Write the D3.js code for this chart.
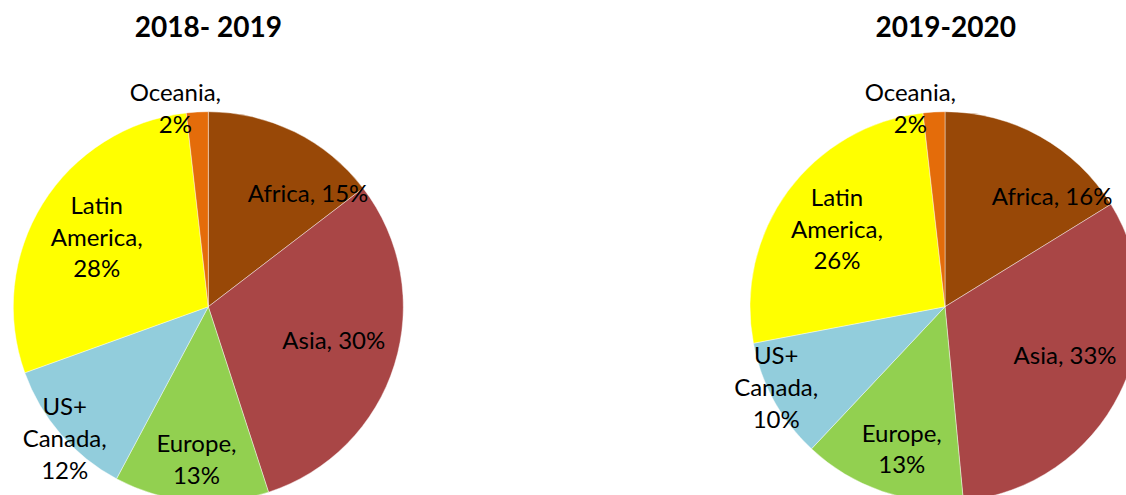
<!DOCTYPE html>
<html>
<head>
<meta charset="utf-8">
<script src="https://cdn.jsdelivr.net/npm/d3@7"></script>
<style>
html,body{margin:0;padding:0;background:#fff;}
svg{display:block;}
</style>
</head>
<body>
<svg id="chart" width="1126" height="495"></svg>
<script>
// ---- data ----
const categories = ["Africa", "Asia", "Europe", "US+ Canada", "Latin America", "Oceania"];
const values2018 = [14.6, 30.4, 12.8, 11.7, 28.7, 1.8];
const values2020 = [16.2, 32.3, 13.5, 10.0, 26.2, 1.8];
const pct2018 = [15, 30, 13, 12, 28, 2];
const pct2020 = [16, 33, 13, 10, 26, 2];
const titles = ["2018- 2019", "2019-2020"];
const colors = ["#984807", "#A94646", "#92D050", "#92CDDC", "#FFFF00", "#E46C0A"];
// how each category name is split into label lines
const nameLines = [["Africa"], ["Asia"], ["Europe"], ["US+", "Canada"], ["Latin", "America"], ["Oceania"]];
const inlinePct = [true, true, false, false, false, false];

// ---- layout ----
const W = 1126, H = 495;
const R = 195;
const FONT = "Lato, 'Open Sans', sans-serif";
const labelSize = 24, lineH = 31.7;
// per pie: [angle shift in degrees, radius factor] for each label
const place2018 = [[15.2, 0.772], [-2, 0.667], [-0.6, 0.785], [-1.7, 1.0], [0, 0.674], [-6.2, 1.03]];
const place2020 = [[15, 0.788], [-4.5, 0.664], [-2, 0.763], [3.2, 0.96], [-0.7, 0.682], [-6.7, 1.03]];

const pies = [
  {title: titles[0], values: values2018, pct: pct2018, cx: 208.3, cy: 306.7, place: place2018, tx: 208.3},
  {title: titles[1], values: values2020, pct: pct2020, cx: 945, cy: 306.7, place: place2020, tx: 945.8}
];

const svg = d3.select("#chart");
svg.append("rect").attr("width", W).attr("height", H).attr("fill", "#fff");

const color = d3.scaleOrdinal().domain(categories).range(colors);
const pie = d3.pie().sort(null).value(d => d.v);
const arc = d3.arc().innerRadius(0).outerRadius(R);

pies.forEach(p => {
  const rows = categories.map((c, i) => ({c, v: p.values[i], pct: p.pct[i], i}));
  const arcs = pie(rows);
  const g = svg.append("g").attr("transform", `translate(${p.cx},${p.cy})`);
  g.selectAll("path.slice").data(arcs).join("path")
    .attr("class", "slice")
    .attr("d", arc)
    .attr("fill", d => color(d.data.c))
    .attr("stroke", "#ffffff")
    .attr("stroke-opacity", 0.6)
    .attr("stroke-width", 0.7);

  arcs.forEach(a => {
    const i = a.data.i;
    const [shift, k] = p.place[i];
    const mid = (a.startAngle + a.endAngle) / 2 + shift * Math.PI / 180;
    const la = d3.arc().innerRadius(k * R).outerRadius(k * R).startAngle(mid).endAngle(mid);
    const [x, y] = la.centroid();
    let lines;
    if (inlinePct[i]) {
      lines = [nameLines[i].join(" ") + ", " + a.data.pct + "%"];
    } else {
      lines = nameLines[i].slice();
      lines[lines.length - 1] += ",";
      lines.push(a.data.pct + "%");
    }
    const t = g.append("text")
      .attr("text-anchor", "middle")
      .attr("font-family", FONT)
      .attr("font-size", labelSize)
      .attr("fill", "#000");
    const n = lines.length;
    lines.forEach((ln, j) => {
      t.append("tspan")
        .attr("x", x)
        .attr("y", y + (j - (n - 1) / 2) * lineH)
        .attr("dy", "0.35em")
        .text(ln);
    });
  });

  svg.append("text")
    .attr("x", p.tx).attr("y", 27)
    .attr("dy", "0.35em")
    .attr("text-anchor", "middle")
    .attr("font-family", FONT)
    .attr("font-weight", "bold")
    .attr("font-size", 28)
    .attr("fill", "#000")
    .text(p.title);
});
</script>
</body>
</html>
